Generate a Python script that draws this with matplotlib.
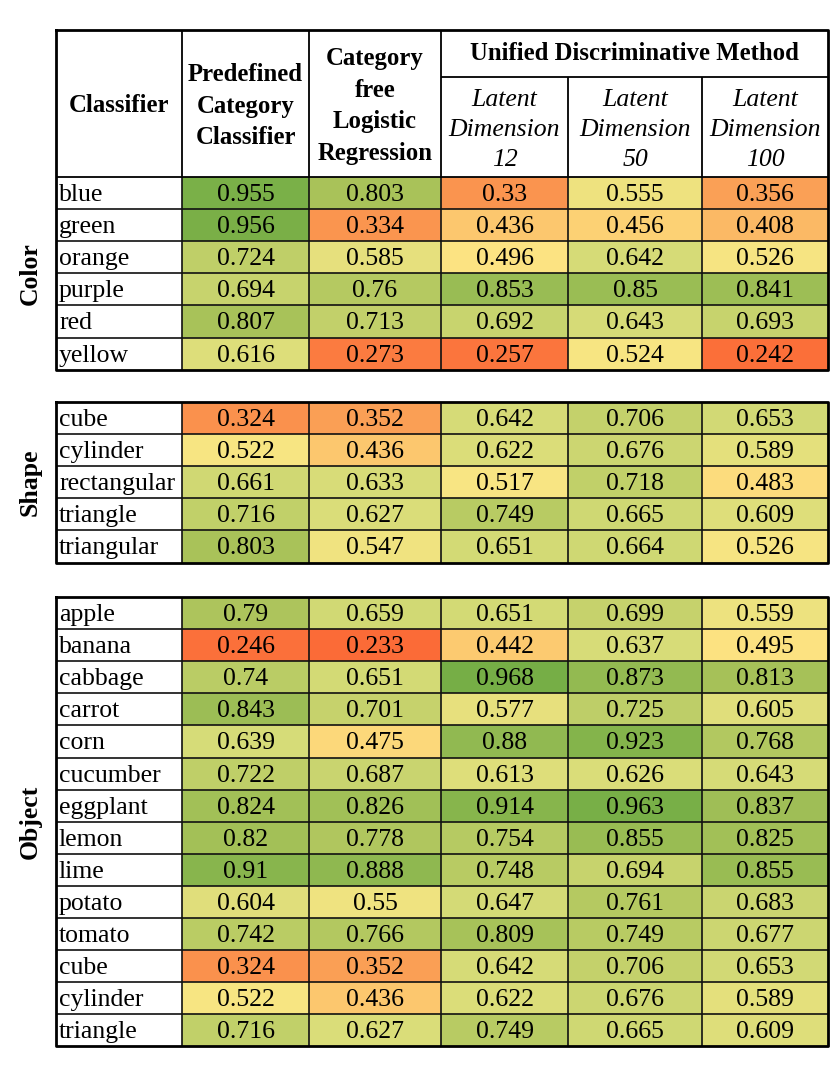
import matplotlib
matplotlib.use("Agg")
import matplotlib.pyplot as plt
import numpy as np
from matplotlib.colors import LinearSegmentedColormap, Normalize

plt.rcParams["font.family"] = ["Liberation Serif", "DejaVu Serif"]

COLUMNS = ["Predefined\nCategory\nClassifier",
           "Category\nfree\nLogistic\nRegression"]
UNIFIED_TITLE = "Unified Discriminative Method"
LATENT_DIMS = ["12", "50", "100"]

color_rows = ["blue", "green", "orange", "purple", "red", "yellow"]
color_vals = [
    [0.955, 0.803, 0.33, 0.555, 0.356],
    [0.956, 0.334, 0.436, 0.456, 0.408],
    [0.724, 0.585, 0.496, 0.642, 0.526],
    [0.694, 0.76, 0.853, 0.85, 0.841],
    [0.807, 0.713, 0.692, 0.643, 0.693],
    [0.616, 0.273, 0.257, 0.524, 0.242],
]

shape_rows = ["cube", "cylinder", "rectangular", "triangle", "triangular"]
shape_vals = [
    [0.324, 0.352, 0.642, 0.706, 0.653],
    [0.522, 0.436, 0.622, 0.676, 0.589],
    [0.661, 0.633, 0.517, 0.718, 0.483],
    [0.716, 0.627, 0.749, 0.665, 0.609],
    [0.803, 0.547, 0.651, 0.664, 0.526],
]

object_rows = ["apple", "banana", "cabbage", "carrot", "corn", "cucumber",
               "eggplant", "lemon", "lime", "potato", "tomato", "cube",
               "cylinder", "triangle"]
object_vals = [
    [0.79, 0.659, 0.651, 0.699, 0.559],
    [0.246, 0.233, 0.442, 0.637, 0.495],
    [0.74, 0.651, 0.968, 0.873, 0.813],
    [0.843, 0.701, 0.577, 0.725, 0.605],
    [0.639, 0.475, 0.88, 0.923, 0.768],
    [0.722, 0.687, 0.613, 0.626, 0.643],
    [0.824, 0.826, 0.914, 0.963, 0.837],
    [0.82, 0.778, 0.754, 0.855, 0.825],
    [0.91, 0.888, 0.748, 0.694, 0.855],
    [0.604, 0.55, 0.647, 0.761, 0.683],
    [0.742, 0.766, 0.809, 0.749, 0.677],
    [0.324, 0.352, 0.642, 0.706, 0.653],
    [0.522, 0.436, 0.622, 0.676, 0.589],
    [0.716, 0.627, 0.749, 0.665, 0.609],
]

groups = [("Color", color_rows, color_vals),
          ("Shape", shape_rows, shape_vals),
          ("Object", object_rows, object_vals)]

# layout (pixel units)
col_edges = np.array([56, 182, 309, 441, 568, 702, 828])
header_top, header_mid, header_bot = 30, 77, 177
group_tops = [177, 402, 597]
row_h = 32.1
fs = 18.5
fs_head = 17.8
ls = 1.47

cmap = LinearSegmentedColormap.from_list(
    "rdylgn_xl",
    [(0.0, "#FB6A36"), (0.14, "#FA9650"), (0.28, "#FCC86E"),
     (0.37, "#FCE684"), (0.55, "#D7DC78"), (0.77, "#AAC35A"), (1.0, "#76AE46")],
)
norm = Normalize(vmin=0.23, vmax=0.97)

fig = plt.figure(figsize=(8.3, 10.75), dpi=100)
ax = fig.add_axes([0, 0, 1, 1])
ax.set_xlim(0, 830)
ax.set_ylim(1075, 0)
ax.axis("off")

# header
ax.text((col_edges[0] + col_edges[1]) / 2, 105, "Classifier", ha="center",
        va="center", fontsize=fs_head, fontweight="bold")
ax.text((col_edges[1] + col_edges[2]) / 2, 106, COLUMNS[0], ha="center",
        va="center", fontsize=fs_head, fontweight="bold", linespacing=ls)
ax.text((col_edges[2] + col_edges[3]) / 2, 106, COLUMNS[1], ha="center",
        va="center", fontsize=fs_head, fontweight="bold", linespacing=ls)
ax.text((col_edges[3] + col_edges[6]) / 2, 54, UNIFIED_TITLE, ha="center",
        va="center", fontsize=fs_head, fontweight="bold")
for i, d in enumerate(LATENT_DIMS):
    cx = (col_edges[3 + i] + col_edges[4 + i]) / 2
    ax.text(cx, 130, f"Latent\nDimension\n{d}", ha="center", va="center",
            fontsize=fs, fontstyle="italic", linespacing=ls)

ax.hlines(header_mid, col_edges[3], col_edges[6], color="black", lw=1.3)
ax.vlines(col_edges[1:4], header_top, header_bot, color="black", lw=1.3)
ax.vlines(col_edges[4:6], header_mid, header_bot, color="black", lw=1.3)

for (name, rows, vals), top in zip(groups, group_tops):
    vals = np.array(vals)
    n = len(rows)
    y_edges = top + row_h * np.arange(n + 1)
    ax.pcolormesh(col_edges[1:], y_edges, vals, cmap=cmap, norm=norm,
                  shading="flat")
    for r, label in enumerate(rows):
        cy = (y_edges[r] + y_edges[r + 1]) / 2 + 2
        ax.text(col_edges[0] + 3, cy, label, ha="left", va="center",
                fontsize=fs)
        for c in range(vals.shape[1]):
            cx = (col_edges[c + 1] + col_edges[c + 2]) / 2
            ax.text(cx, cy, f"{vals[r, c]:g}", ha="center", va="center",
                    fontsize=fs)
    ax.hlines(y_edges[1:-1], col_edges[0], col_edges[-1], color="#111111", lw=1.2)
    ax.vlines(col_edges[1:-1], y_edges[0], y_edges[-1], color="#111111", lw=1.2)
    ax.text(30, (y_edges[0] + y_edges[-1]) / 2, name, rotation=90,
            ha="center", va="center", fontsize=fs, fontweight="bold")
    start = header_top if top == group_tops[0] else y_edges[0]
    ax.plot([col_edges[0], col_edges[-1], col_edges[-1], col_edges[0], col_edges[0]],
            [start, start, y_edges[-1], y_edges[-1], start],
            color="black", lw=2)

ax.hlines(header_bot, col_edges[0], col_edges[-1], color="black", lw=1.3)

fig.savefig("out.png", dpi=100)
